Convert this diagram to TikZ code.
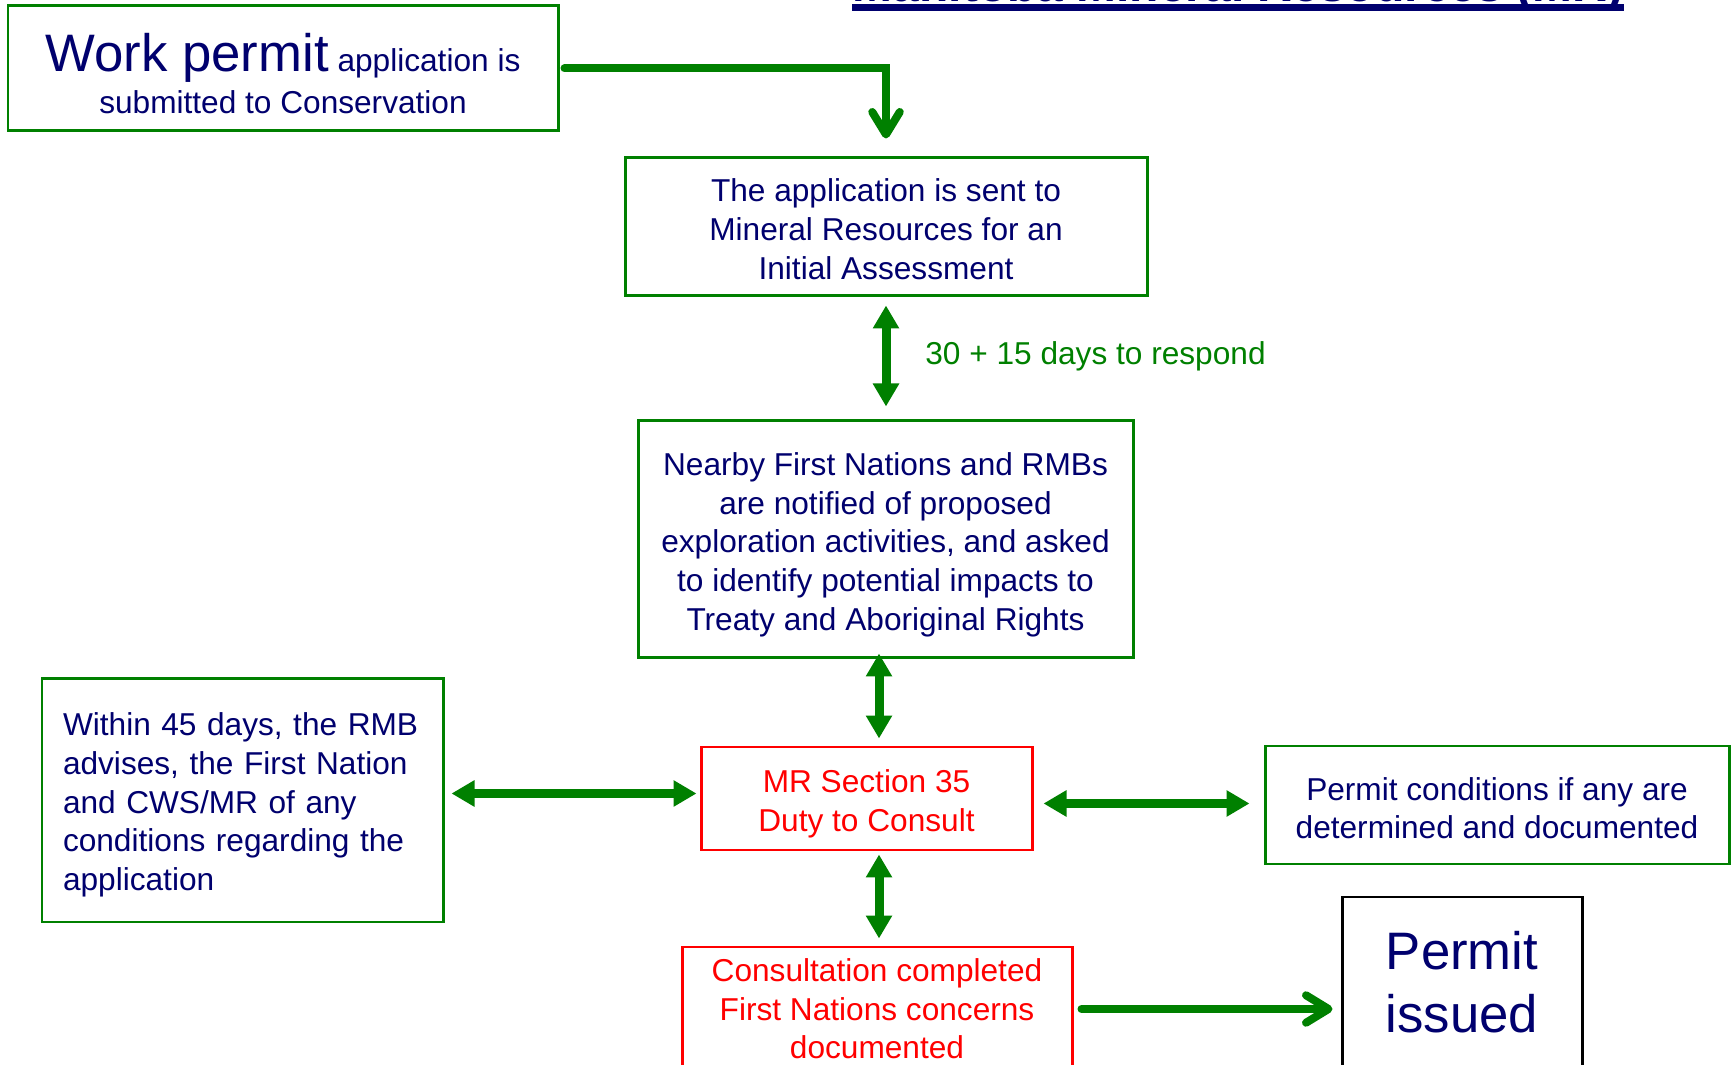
\documentclass[tikz,border=0pt]{standalone}
\usepackage{fontspec}
\setmainfont{Liberation Sans}
\usetikzlibrary{arrows.meta}
\definecolor{navy}{RGB}{0,0,110}
\definecolor{mgreen}{RGB}{0,128,0}
\definecolor{mred}{RGB}{255,0,0}
\newcommand\lift[1]{\rule{0pt}{#1}}
\begin{document}
\begin{tikzpicture}[every node/.style={inner sep=0pt},
  gbox/.style={draw=mgreen,line width=1.7pt,text=navy,align=center,font=\fontsize{18}{22}\selectfont},
  rbox/.style={draw=mred,line width=1.7pt,text=mred,align=center,font=\fontsize{18}{22}\selectfont},
  dbl/.style={{Triangle[length=0.46cm,width=0.5cm]}-{Triangle[length=0.46cm,width=0.5cm]},line width=0.18cm,draw=mgreen},
  one/.style={-{Straight Barb[length=0.45cm,width=0.55cm,round]},line width=0.16cm,draw=mgreen,line cap=round}]
  \useasboundingbox (0,0) rectangle (34.62,21.28);
  \fill [white] (0,0) rectangle (34.62,21.28);
  % title, cut by the top edge
  \node [anchor=base,text=navy,font=\bfseries\fontsize{27.3}{32}\selectfont] (ttl) at (24.76,21.24) {Manitoba Mineral Resources (MR)};
  \draw [navy,line width=0.14cm] ([yshift=-0.12cm]ttl.base west) -- ([yshift=-0.12cm]ttl.base east);
  % boxes
  \node [gbox,minimum width=11cm,minimum height=2.5cm] (work) at (5.66,19.91)
    {\lift{27.5pt}{\fontsize{30}{36}\selectfont Work permit} application is\\[2pt] submitted to Conservation};
  \node [gbox,minimum width=10.44cm,minimum height=2.76cm] (app) at (17.72,16.74)
    {\lift{15.5pt}The application is sent to\\ Mineral Resources for an\\ Initial Assessment};
  \node [gbox,minimum width=9.9cm,minimum height=4.74cm] (notif) at (17.71,10.49)
    {\lift{19pt}Nearby First Nations and RMBs\\ are notified of proposed\\ exploration activities, and asked\\ to identify potential impacts to\\ Treaty and Aboriginal Rights};
  \node [rbox,minimum width=6.62cm,minimum height=2.06cm] (mr) at (17.33,5.31)
    {\lift{19pt}MR Section 35\\ Duty to Consult};
  \node [gbox,align=left,text width=7.18cm,inner xsep=0.42cm,minimum height=4.86cm] (rmb) at (4.85,5.27)
    {\lift{18pt}Within 45 days, the RMB\\ advises, the First Nation\\ and CWS/MR of any\\ conditions regarding the\\ application};
  \node [gbox,minimum width=9.28cm,minimum height=2.36cm] (cond) at (29.94,5.18)
    {\lift{16.5pt}Permit conditions if any are\\ determined and documented};
  \node [rbox,minimum width=7.8cm,minimum height=2.48cm] (cons) at (17.54,1.1)
    {Consultation completed\\ First Nations concerns\\ documented};
  \node [draw=black,line width=1.7pt,text=navy,align=center,font=\fontsize{30}{36}\selectfont,
    minimum width=4.8cm,minimum height=3.42cm] (perm) at (29.24,1.63) {Permit\\ issued};
  \node [anchor=west,text=mgreen,font=\fontsize{18}{22}\selectfont] (days) at (18.5,14.15) {30 + 15 days to respond};
  % connectors
  \draw [one,shorten <=0.1cm,shorten >=0.36cm] (work.east) -| (app.north);
  \draw [dbl,shorten <=0.16cm,shorten >=0.26cm] (app.south) -- (app.south |- notif.north);
  \draw [dbl,shorten <=-0.12cm,shorten >=0.14cm] ([xshift=2.5mm]mr.north |- notif.south) -- ([xshift=2.5mm]mr.north);
  \draw [dbl,shorten <=0.06cm,shorten >=0.14cm] ([xshift=2.5mm]mr.south) -- ([xshift=2.5mm]mr.south |- cons.north);
  \draw [dbl,shorten <=0.14cm,shorten >=0.06cm] ([yshift=1mm]mr.west -| rmb.east) -- ([yshift=1mm]mr.west);
  \draw [dbl,shorten <=0.2cm,shorten >=0.28cm] ([yshift=-1mm]mr.east) -- ([yshift=-1mm]mr.east -| cond.west);
  \draw [one,shorten <=0.16cm,shorten >=0.16cm] (cons.east) -- (cons.east -| perm.west);
\end{tikzpicture}
\end{document}
